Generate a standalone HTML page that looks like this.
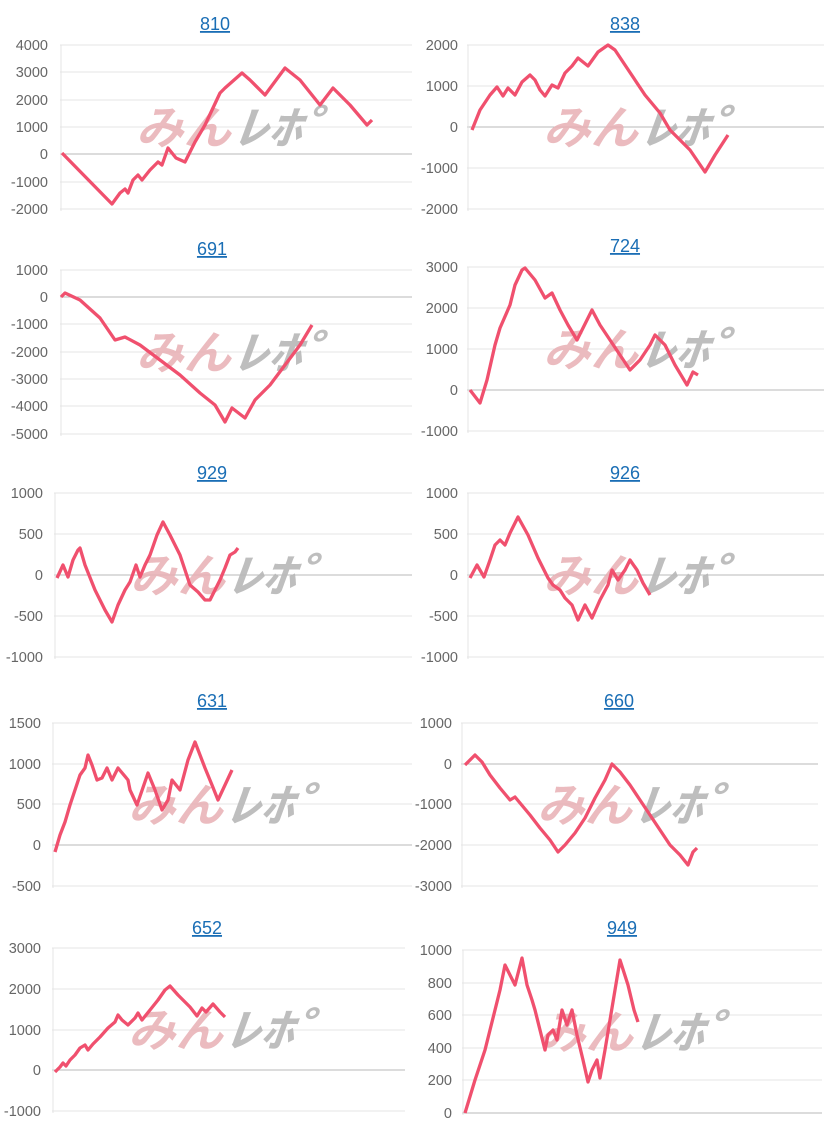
<!DOCTYPE html>
<html><head><meta charset="utf-8"><style>
html,body{margin:0;padding:0;background:#fff;width:824px;height:1130px;overflow:hidden}
svg{display:block}
</style></head><body>
<svg id="s" width="824" height="1130" xmlns="http://www.w3.org/2000/svg" font-family="Liberation Sans, Noto Sans CJK JP, sans-serif"></svg>
<script>
var C=[
{t:"810",tx:215,ty:30,l:61,r:412,labx:48,ticks:[[4000,45],[3000,72],[2000,100],[1000,127],[0,154],[-1000,182],[-2000,209]],zero:154,
p:"62,153 112,204 120,193 125,189 128,193 133,180 138,175 142,180 150,170 158,162 162,165 168,148 176,158 185,162 195,142 205,125 220,93 225,88 242,73 250,80 265,95 285,68 300,80 320,105 333,88 350,105 367,125 372,120"},
{t:"838",tx:625,ty:30,l:468,r:824,labx:458,ticks:[[2000,45],[1000,86],[0,127],[-1000,168],[-2000,209]],zero:127,
p:"472,130 480,110 490,95 497,87 503,96 508,88 515,95 522,82 530,75 535,80 540,90 545,96 552,85 558,88 565,73 572,66 578,58 588,66 598,52 608,45 615,50 625,65 635,80 645,95 660,113 670,130 690,150 705,172 715,155 728,135"},
{t:"691",tx:212,ty:255,l:61,r:412,labx:48,ticks:[[1000,270],[0,297],[-1000,324],[-2000,352],[-3000,379],[-4000,406],[-5000,434]],zero:297,
p:"61,297 65,293 80,300 100,318 115,340 125,337 140,345 160,360 180,375 200,393 215,405 225,422 232,408 245,418 255,400 270,385 285,365 300,345 312,325"},
{t:"724",tx:625,ty:252,l:468,r:824,labx:458,ticks:[[3000,267],[2000,308],[1000,349],[0,390],[-1000,431]],zero:390,
p:"470,390 480,403 487,380 495,345 500,328 510,305 515,285 522,270 525,268 535,280 545,298 552,293 560,310 568,325 577,340 582,330 592,310 600,325 610,340 620,355 630,370 640,360 650,345 655,335 665,345 675,365 687,385 693,372 698,375"},
{t:"929",tx:212,ty:479,l:55,r:412,labx:43,ticks:[[1000,493],[500,534],[0,575],[-500,616],[-1000,657]],zero:575,
p:"57,578 63,565 68,577 73,560 78,550 80,548 85,565 95,590 105,610 112,622 118,605 125,590 130,582 136,565 140,577 145,565 150,555 157,535 163,522 170,535 175,545 180,555 185,570 190,585 198,592 205,600 210,600 215,590 220,580 225,568 230,555 235,552 238,548"},
{t:"926",tx:625,ty:479,l:468,r:824,labx:458,ticks:[[1000,493],[500,534],[0,575],[-500,616],[-1000,657]],zero:575,
p:"470,578 477,565 484,577 490,560 495,545 500,540 505,545 510,533 518,517 528,535 538,558 548,578 553,585 560,590 565,598 572,605 578,620 585,605 592,618 600,600 608,585 612,570 618,580 625,570 630,560 637,570 643,583 650,595"},
{t:"631",tx:212,ty:707,l:53,r:412,labx:41,ticks:[[1500,723],[1000,764],[500,804],[0,845],[-500,886]],zero:845,
p:"55,852 60,835 65,822 70,805 75,790 80,775 85,768 88,755 92,765 97,780 102,778 107,768 112,780 118,768 128,780 130,790 137,805 148,773 155,790 162,810 168,800 172,780 180,790 188,760 195,742 200,755 205,768 212,785 218,800 225,785 232,770"},
{t:"660",tx:619,ty:707,l:462,r:818,labx:452,ticks:[[1000,723],[0,764],[-1000,804],[-2000,845],[-3000,886]],zero:764,
p:"465,765 475,755 482,762 490,775 500,788 510,800 515,797 520,803 530,815 540,828 550,840 558,852 565,845 575,833 585,818 595,798 605,780 612,764 620,772 630,785 640,800 650,815 660,830 670,845 680,855 688,865 693,852 697,848"},
{t:"652",tx:207,ty:934,l:53,r:405,labx:41,ticks:[[3000,948],[2000,989],[1000,1030],[0,1070],[-1000,1111]],zero:1070,
p:"55,1072 60,1067 63,1063 66,1066 70,1060 75,1055 80,1048 85,1045 88,1050 93,1044 100,1037 108,1028 115,1022 118,1015 122,1020 128,1025 135,1018 138,1013 142,1020 150,1010 158,1000 165,990 170,986 178,995 190,1007 197,1016 202,1008 206,1012 213,1004 220,1012 225,1017"},
{t:"949",tx:622,ty:934,l:463,r:822,labx:452,ticks:[[1000,950],[800,983],[600,1015],[400,1048],[200,1080],[0,1113]],zero:1113,
p:"465,1113 475,1080 485,1050 495,1010 500,990 505,965 510,975 515,985 522,958 527,985 532,1000 535,1010 540,1030 545,1050 548,1035 553,1030 557,1040 562,1010 567,1025 572,1010 577,1035 583,1060 588,1082 592,1070 597,1060 600,1078 605,1050 610,1020 615,990 620,960 628,985 634,1010 638,1022"}
];
var h="";
C.forEach(function(c){
 var top=c.ticks[0][1],bot=c.ticks[c.ticks.length-1][1];
 c.ticks.forEach(function(k){
  var col=k[1]==c.zero?"#b8b8b8":"#e4e4e4";
  h+='<line x1="'+(c.l-1)+'" x2="'+c.r+'" y1="'+k[1]+'" y2="'+k[1]+'" stroke="'+col+'" stroke-width="1"/>';
  h+='<text x="'+c.labx+'" y="'+(k[1]+5)+'" text-anchor="end" font-size="14.5" fill="#666">'+k[0]+'</text>';
 });
 h+='<line x1="'+c.l+'" x2="'+c.l+'" y1="'+top+'" y2="'+(bot+2)+'" stroke="#e4e4e4"/>';
 var cy=(top+bot)/2+17, cx=c.l+175;
 h+='<text x="'+(cx-100)+'" y="'+cy+'" font-size="46" font-weight="bold" font-style="italic" fill="#e8b0b4" opacity="0.85" textLength="95" lengthAdjust="spacingAndGlyphs">みん</text>';
 h+='<text x="'+(cx-2)+'" y="'+cy+'" font-size="46" font-weight="bold" font-style="italic" fill="#b8b8b8" opacity="0.9" textLength="100" lengthAdjust="spacingAndGlyphs">ﾚﾎﾟ</text>';
 h+='<polyline points="'+c.p+'" fill="none" stroke="#f0506e" stroke-width="3.3" stroke-linejoin="round"/>';
 h+='<text x="'+c.tx+'" y="'+c.ty+'" text-anchor="middle" font-size="18" fill="#1a6eb5" text-decoration="underline">'+c.t+'</text>';
});
document.getElementById("s").innerHTML=h;
</script>
</body></html>
